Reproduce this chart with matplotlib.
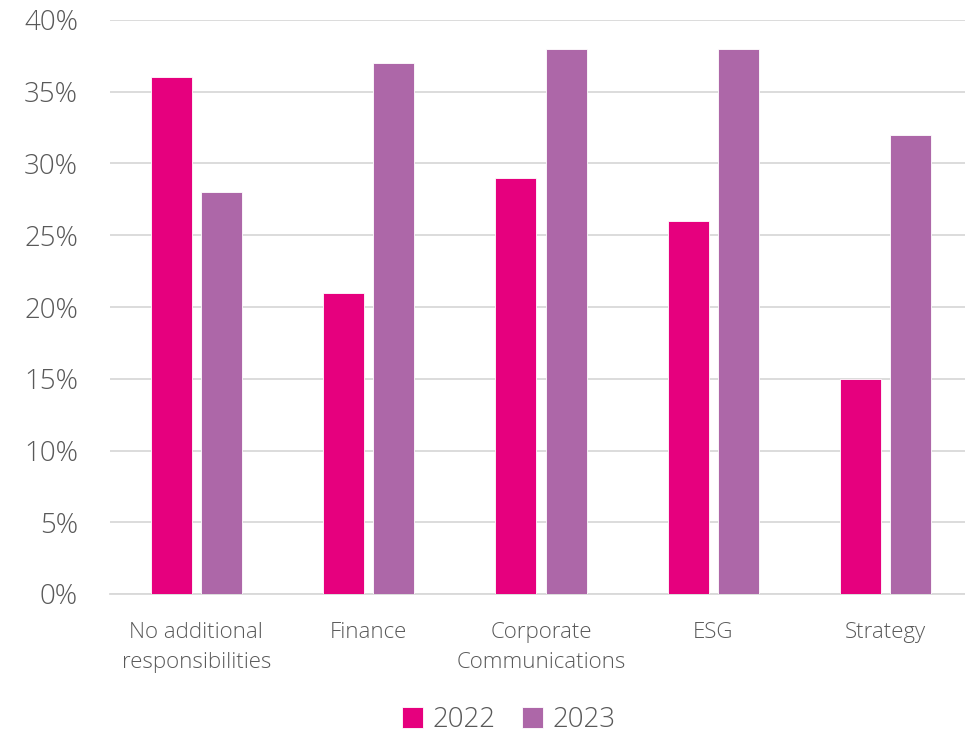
import matplotlib
matplotlib.use("Agg")
import matplotlib.pyplot as plt
import numpy as np
from matplotlib.ticker import FuncFormatter

categories = ["No additional\nresponsibilities", "Finance", "Corporate\nCommunications", "ESG", "Strategy"]
series_names = ["2022", "2023"]
values_2022 = [36, 21, 29, 26, 15]
values_2023 = [28, 37, 38, 38, 32]
colors = ["#E6007E", "#AD67A8"]
yticks = [0, 5, 10, 15, 20, 25, 30, 35, 40]

plt.rcParams['font.family'] = ['Open Sans', 'DejaVu Sans']
plt.rcParams['font.weight'] = 'light'
text_color = "#595959"

fig = plt.figure(figsize=(9.65, 7.37), dpi=100)
ax = fig.add_axes([110/965, 1-594/737, 862/965, (594-20)/737])

x = np.arange(len(categories))
w = 0.237
gap = 0.027
ax.bar(x - w/2 - gap, values_2022, w, color=colors[0], label=series_names[0], edgecolor="white", linewidth=0.6, zorder=3)
ax.bar(x + w/2 + gap, values_2023, w, color=colors[1], label=series_names[1], edgecolor="white", linewidth=0.6, zorder=3)

ax.set_xlim(-0.5, len(categories) - 0.5)
ax.set_ylim(0, 40)
ax.set_yticks(yticks)
ax.yaxis.set_major_formatter(FuncFormatter(lambda v, p: f"{int(v)}%"))
ax.grid(axis='y', color="#D9D9D9", linewidth=1.3, zorder=0)
ax.set_axisbelow(True)
for s in ["top", "right", "left"]:
    ax.spines[s].set_visible(False)
ax.spines["bottom"].set_color("#D9D9D9")
ax.spines["bottom"].set_linewidth(1.3)
ax.tick_params(axis='both', length=0, colors=text_color)
ax.tick_params(axis='y', labelsize=20, pad=23)
ax.tick_params(axis='x', labelsize=16, pad=20)
ax.set_xticks(x)
ax.set_xticklabels(categories, linespacing=1.55)

leg = fig.legend(loc="center", bbox_to_anchor=(0.527, 0.023), ncol=2, frameon=False,
                 fontsize=20, handlelength=0.75, handleheight=0.75, handletextpad=0.35, columnspacing=0.95)
for t in leg.get_texts():
    t.set_color(text_color)

fig.savefig("out.png", dpi=100)
